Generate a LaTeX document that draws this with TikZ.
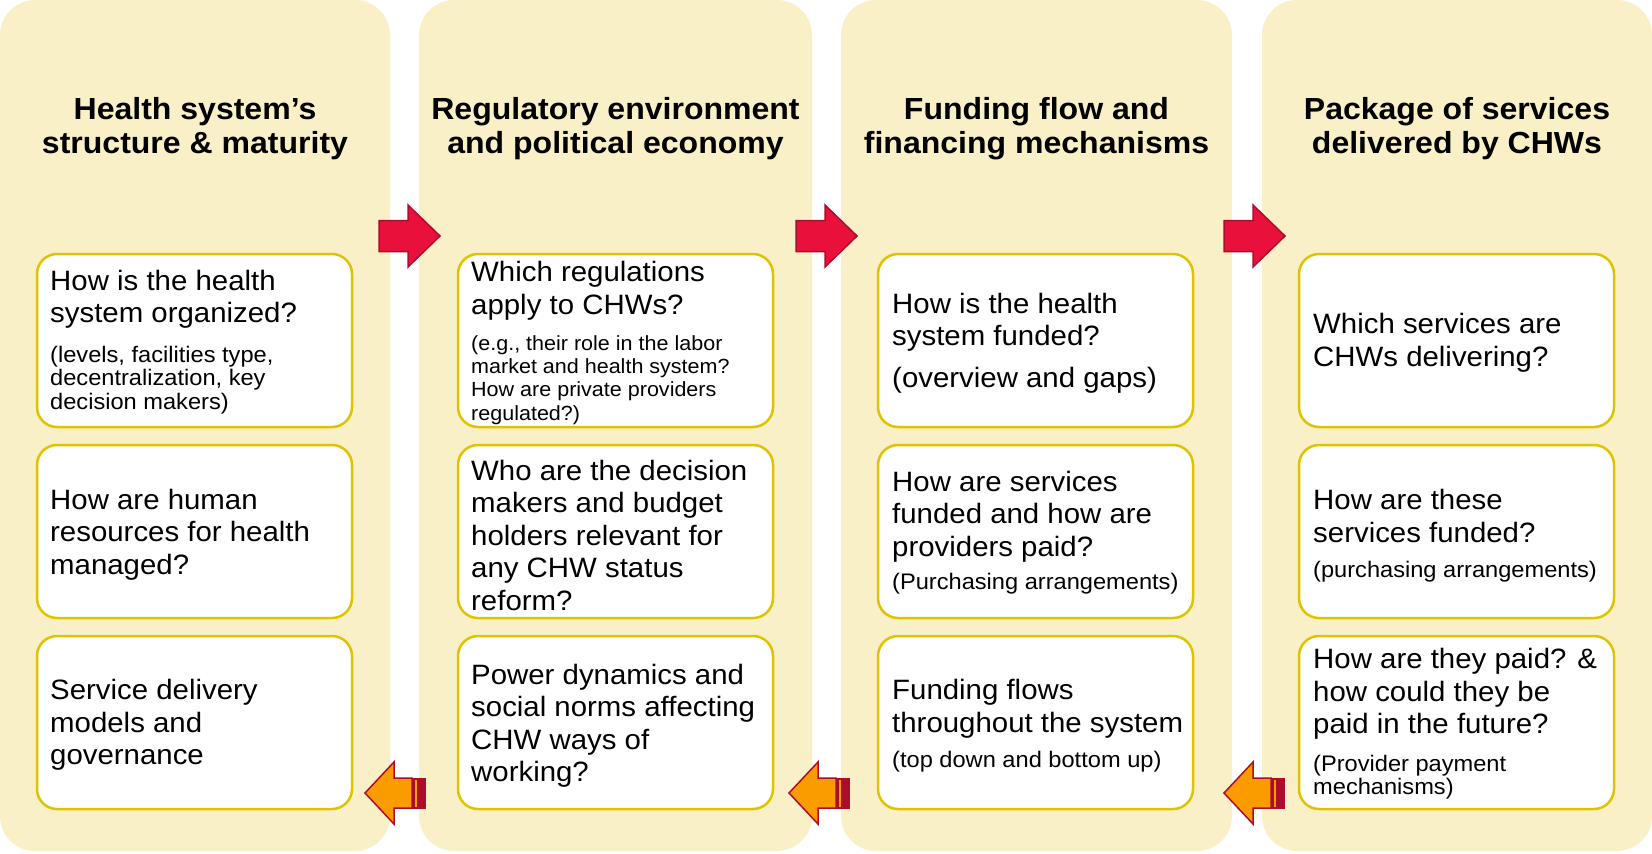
\documentclass[tikz,border=0pt]{standalone}
\usepackage{fontspec}
\setmainfont{Liberation Sans}[FakeStretch=1.05]
\definecolor{colbg}{RGB}{250,240,200}
\definecolor{boxline}{RGB}{222,196,0}
\definecolor{arrred}{RGB}{234,16,60}
\definecolor{arrorange}{RGB}{250,155,0}
\definecolor{arrline}{RGB}{170,14,44}
\newcommand{\bodyfont}{\fontsize{28}{32.5}\selectfont}
\newcommand{\smallfont}{\fontsize{22.5}{23.5}\selectfont}
\newcommand{\smallerfont}{\fontsize{20.5}{23.3}\selectfont}
\newcommand{\titlefont}{\fontsize{30.5}{34}\selectfont\bfseries}
\tikzset{
  colbox/.style={fill=colbg, rounded corners=35pt},
  qbox/.style={draw=boxline, line width=2.5pt, fill=white, rounded corners=20pt,
    minimum width=315pt, minimum height=173pt, inner sep=0pt},
  titletxt/.style={font=\titlefont, align=center, inner sep=0pt, yshift=-4pt},
  bodytxt/.style={font=\bodyfont, align=left, anchor=west, inner sep=0pt, yshift=-3.5pt},
  smalltxt/.style={font=\smallfont, align=left, anchor=west, inner sep=0pt, yshift=-3.5pt},
  smallertxt/.style={font=\smallerfont, align=left, anchor=west, inner sep=0pt, yshift=-3pt},
  rarrow/.style={fill=arrred, draw=arrline, line width=1.5pt, line join=miter},
  larrow/.style={fill=arrorange, draw=arrline, line width=1.5pt, line join=miter},
  stripe/.style={fill=arrline, draw=arrline, line width=1pt},
  stripegap/.style={draw=arrorange, line width=1.5pt},
}
\begin{document}
\begin{tikzpicture}[x=1pt, y=-1pt]
\useasboundingbox (0,0) rectangle (1652,854);
% columns
\fill[colbox] (0,0) rectangle (390,851);
\fill[colbox] (419,0) rectangle (812,851);
\fill[colbox] (841,0) rectangle (1232,851);
\fill[colbox] (1262,0) rectangle (1652,851);
% titles
\node[titletxt] (h1) at (195,125) {Health system’s\\structure \& maturity};
\node[titletxt] (h2) at (615.5,125) {Regulatory environment\\and political economy};
\node[titletxt] (h3) at (1036.5,125) {Funding flow and\\financing mechanisms};
\node[titletxt] (h4) at (1457,125) {Package of services\\delivered by CHWs};
% right arrows
\foreach \xa in {379,796,1224}{
  \draw[rarrow] (\xa,220.5) -- ++(29,0) -- ++(0,-15.5) -- ++(32,31) -- ++(-32,31) -- ++(0,-15.5) -- ++(-29,0) -- cycle;
}
% left striped arrows
\foreach \xa in {365,789,1224}{
  \draw[stripe] (\xa+46,778) rectangle (\xa+60,808);
  \draw[stripegap] (\xa+51,779.5) -- (\xa+51,806.5);
  \draw[larrow] (\xa,793) -- ++(29,-31) -- ++(0,16) -- ++(18,0) -- ++(0,30) -- ++(-18,0) -- ++(0,16) -- cycle;
}
% question boxes
\foreach \c/\xl in {1/37,2/458,3/878,4/1299}{
  \node[qbox] (b\c1) at (\xl+157.5,340.5) {};
  \node[qbox] (b\c2) at (\xl+157.5,531.5) {};
  \node[qbox] (b\c3) at (\xl+157.5,722.5) {};
}
% column 1
\node[bodytxt] (t11) at (50,296) {How is the health\\system organized?};
\node[smalltxt] (s11) at (50,376.5) {(levels, facilities type,\\decentralization, key\\decision makers)};
\node[bodytxt] (t12) at (50,531) {How are human\\resources for health\\managed?};
\node[bodytxt] (t13) at (50,721.5) {Service delivery\\models and\\governance};
% column 2
\node[bodytxt] (t21) at (471,287.5) {Which regulations\\apply to CHWs?};
\node[smallertxt] (s21) at (471,377) {(e.g., their role in the labor\\market and health system?\\How are private providers\\regulated?)};
\node[bodytxt] (t22) at (471,531.5) {Who are the decision\\makers and budget\\holders relevant for\\any CHW status\\reform?};
\node[bodytxt] (t23) at (471,722.5) {Power dynamics and\\social norms affecting\\CHW ways of\\working?};
% column 3
\node[bodytxt] (t31) at (892,319) {How is the health\\system funded?};
\node[bodytxt] (s31) at (892,377) {(overview and gaps)};
\node[bodytxt] (t32) at (892,513) {How are services\\funded and how are\\providers paid?};
\node[smalltxt] (s32) at (892,580) {(Purchasing arrangements)};
\node[bodytxt] (t33) at (892,705.5) {Funding flows\\throughout the system};
\node[smalltxt] (s33) at (892,758) {(top down and bottom up)};
% column 4
\node[bodytxt] (t41) at (1313,339.5) {Which services are\\CHWs delivering?};
\node[bodytxt] (t42) at (1313,512.5) {How are these\\services funded?};
\node[smalltxt] (s42) at (1313,568) {(purchasing arrangements)};
\node[bodytxt] (t43) at (1313,690.5) {How are they paid? \&\\how could they be\\paid in the future?};
\node[smalltxt] (s43) at (1313,773.5) {(Provider payment\\mechanisms)};
\end{tikzpicture}
\end{document}
